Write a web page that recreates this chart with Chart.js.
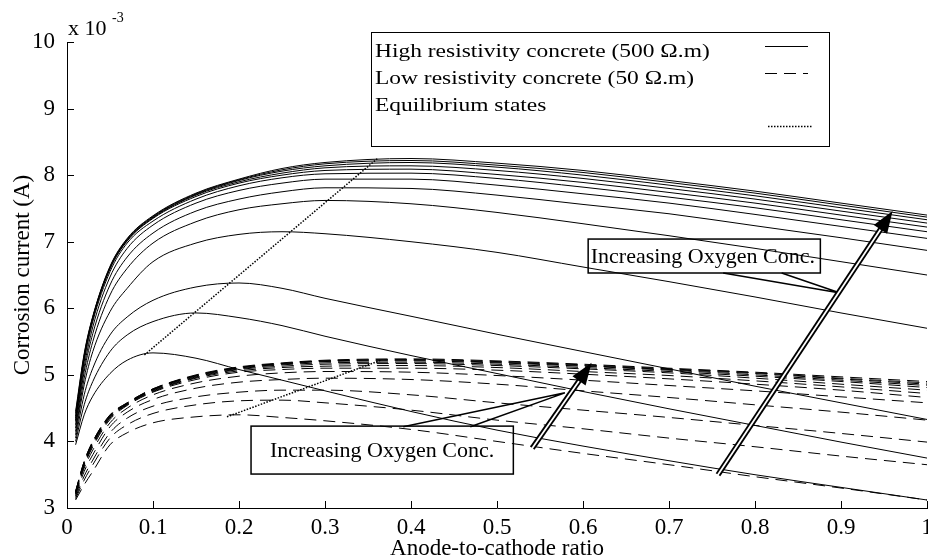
<!DOCTYPE html>
<html>
<head>
<meta charset="utf-8">
<script src="https://cdn.jsdelivr.net/npm/chart.js@4.4.1/dist/chart.umd.min.js"></script>
<style>
  html, body { margin: 0; padding: 0; background: #fff; }
  canvas { display: block; }
</style>
</head>
<body>
<canvas id="corrosionChart" width="928" height="559"></canvas>
<script>
// anode-to-cathode ratio sample points (shared by every curve)
const ratio = [0.01, 0.02, 0.03, 0.05, 0.07, 0.1, 0.15, 0.2, 0.25, 0.3, 0.4, 0.5, 0.6, 0.7, 0.8, 0.9, 1.0];

// corrosion current (x 10^-3 A), high resistivity concrete (500 ohm.m), low -> high oxygen
const highRes = [
  [3.95, 4.40, 4.68, 5.02, 5.22, 5.33, 5.25, 5.08, 4.92, 4.76, 4.45, 4.17, 3.93, 3.71, 3.50, 3.31, 3.12],
  [4.00, 4.55, 4.90, 5.35, 5.60, 5.80, 5.93, 5.86, 5.74, 5.58, 5.29, 5.02, 4.75, 4.49, 4.24, 3.99, 3.75],
  [4.05, 4.70, 5.10, 5.60, 5.87, 6.12, 6.32, 6.38, 6.30, 6.15, 5.88, 5.61, 5.35, 5.09, 4.83, 4.58, 4.33],
  [4.10, 4.85, 5.35, 5.95, 6.30, 6.70, 6.98, 7.11, 7.15, 7.12, 7.00, 6.84, 6.62, 6.40, 6.17, 5.93, 5.70],
  [4.15, 4.95, 5.50, 6.20, 6.60, 6.98, 7.30, 7.48, 7.57, 7.62, 7.57, 7.44, 7.27, 7.09, 6.90, 6.70, 6.50],
  [4.20, 5.05, 5.62, 6.35, 6.77, 7.13, 7.46, 7.64, 7.75, 7.81, 7.80, 7.70, 7.56, 7.42, 7.24, 7.06, 6.87],
  [4.25, 5.12, 5.72, 6.47, 6.90, 7.25, 7.58, 7.77, 7.88, 7.94, 7.94, 7.85, 7.72, 7.58, 7.41, 7.23, 7.05],
  [4.30, 5.20, 5.80, 6.55, 6.98, 7.31, 7.64, 7.84, 7.96, 8.02, 8.03, 7.95, 7.82, 7.67, 7.51, 7.33, 7.15],
  [4.32, 5.24, 5.84, 6.59, 7.01, 7.35, 7.68, 7.88, 8.00, 8.07, 8.09, 8.01, 7.89, 7.74, 7.58, 7.40, 7.22],
  [4.35, 5.26, 5.85, 6.60, 7.02, 7.36, 7.70, 7.90, 8.03, 8.11, 8.14, 8.07, 7.95, 7.80, 7.64, 7.46, 7.28],
  [4.38, 5.28, 5.86, 6.61, 7.03, 7.37, 7.71, 7.92, 8.06, 8.14, 8.19, 8.12, 8.00, 7.85, 7.69, 7.51, 7.33],
  [4.42, 5.30, 5.87, 6.62, 7.04, 7.38, 7.72, 7.93, 8.08, 8.17, 8.22, 8.15, 8.04, 7.89, 7.73, 7.55, 7.37],
  [4.45, 5.32, 5.88, 6.63, 7.05, 7.39, 7.73, 7.94, 8.10, 8.19, 8.25, 8.18, 8.07, 7.92, 7.76, 7.58, 7.40]
];

// low resistivity concrete (50 ohm.m)
const lowRes = [
  [3.12, 3.35, 3.55, 3.95, 4.13, 4.28, 4.37, 4.40, 4.36, 4.31, 4.18, 4.00, 3.82, 3.65, 3.47, 3.30, 3.12],
  [3.14, 3.42, 3.65, 4.05, 4.25, 4.42, 4.55, 4.61, 4.62, 4.58, 4.47, 4.32, 4.19, 4.05, 3.92, 3.78, 3.65],
  [3.16, 3.48, 3.72, 4.13, 4.35, 4.53, 4.67, 4.74, 4.77, 4.77, 4.70, 4.58, 4.47, 4.36, 4.24, 4.12, 3.99],
  [3.18, 3.55, 3.80, 4.22, 4.44, 4.63, 4.80, 4.89, 4.93, 4.95, 4.93, 4.86, 4.76, 4.66, 4.55, 4.44, 4.32],
  [3.20, 3.60, 3.87, 4.28, 4.50, 4.70, 4.88, 4.98, 5.03, 5.05, 5.04, 4.99, 4.92, 4.84, 4.76, 4.67, 4.58],
  [3.21, 3.63, 3.92, 4.33, 4.54, 4.74, 4.93, 5.04, 5.08, 5.10, 5.10, 5.07, 5.01, 4.94, 4.86, 4.77, 4.66],
  [3.22, 3.65, 3.94, 4.35, 4.55, 4.75, 4.95, 5.06, 5.11, 5.13, 5.14, 5.11, 5.05, 4.99, 4.91, 4.82, 4.72],
  [3.23, 3.66, 3.96, 4.36, 4.56, 4.76, 4.96, 5.08, 5.13, 5.16, 5.17, 5.14, 5.09, 5.03, 4.95, 4.86, 4.77],
  [3.23, 3.67, 3.97, 4.37, 4.56, 4.77, 4.97, 5.09, 5.15, 5.18, 5.19, 5.16, 5.11, 5.05, 4.98, 4.90, 4.81],
  [3.24, 3.68, 3.98, 4.38, 4.57, 4.78, 4.98, 5.10, 5.16, 5.20, 5.21, 5.18, 5.13, 5.07, 5.00, 4.92, 4.84],
  [3.24, 3.69, 3.99, 4.39, 4.57, 4.78, 4.99, 5.11, 5.17, 5.21, 5.22, 5.19, 5.14, 5.08, 5.02, 4.94, 4.86],
  [3.25, 3.70, 4.00, 4.39, 4.58, 4.79, 4.99, 5.11, 5.17, 5.21, 5.23, 5.20, 5.15, 5.09, 5.03, 4.95, 4.88],
  [3.25, 3.70, 4.00, 4.40, 4.58, 4.79, 5.00, 5.12, 5.18, 5.22, 5.24, 5.21, 5.16, 5.10, 5.04, 4.97, 4.90]
];

// equilibrium states (line through the peaks)
const eqHighRatio = [0.09, 0.362];
const eqHighCurrent = [5.30, 8.26];
const eqLowRatio = [0.186, 0.365];
const eqLowCurrent = [4.37, 5.22];

const xTickLabels = ["0", "0.1", "0.2", "0.3", "0.4", "0.5", "0.6", "0.7", "0.8", "0.9", "1"];
const yTickLabels = ["3", "4", "5", "6", "7", "8", "9", "10"];
const legendLabels = [
  "High resistivity concrete (500 \u03A9.m)",
  "Low resistivity concrete (50 \u03A9.m)",
  "Equilibrium states"
];
const calloutText = "Increasing Oxygen Conc.";

const SERIF = "'Liberation Serif', 'Times New Roman', serif";

function toPoints(xs, ys) {
  return ys.map((v, i) => ({ x: xs[i], y: v }));
}

const datasets = [];
highRes.forEach((curve, i) => {
  datasets.push({
    label: "high " + i,
    data: toPoints(ratio, curve),
    borderColor: "#000",
    borderWidth: 1,
    pointRadius: 0,
    cubicInterpolationMode: "monotone",
  });
});
lowRes.forEach((curve, i) => {
  datasets.push({
    label: "low " + i,
    data: toPoints(ratio, curve),
    borderColor: "#000",
    borderWidth: 1,
    borderDash: [12, 7],
    pointRadius: 0,
    cubicInterpolationMode: "monotone",
  });
});
[[eqHighRatio, eqHighCurrent], [eqLowRatio, eqLowCurrent]].forEach(([xs, ys]) => {
  datasets.push({
    label: "equilibrium",
    data: toPoints(xs, ys),
    borderColor: "#000",
    borderWidth: 1.5,
    borderDash: [1.5, 1.5],
    pointRadius: 0,
  });
});

// double-shafted arrow with a filled head, like the MATLAB annotation
function doubleArrow(ctx, x1, y1, x2, y2) {
  const ang = Math.atan2(y2 - y1, x2 - x1);
  const headLen = 22, headHalf = 8;
  const bx = x2 - headLen * Math.cos(ang), by = y2 - headLen * Math.sin(ang);
  ctx.lineCap = "butt";
  ctx.strokeStyle = "#000";
  ctx.lineWidth = 5.5;
  ctx.beginPath(); ctx.moveTo(x1, y1); ctx.lineTo(bx + 2 * Math.cos(ang), by + 2 * Math.sin(ang)); ctx.stroke();
  ctx.strokeStyle = "#fff";
  ctx.lineWidth = 1.8;
  ctx.beginPath(); ctx.moveTo(x1 - Math.cos(ang), y1 - Math.sin(ang)); ctx.lineTo(bx, by); ctx.stroke();
  ctx.fillStyle = "#000";
  ctx.beginPath();
  ctx.moveTo(x2, y2);
  ctx.lineTo(bx + headHalf * Math.sin(ang), by - headHalf * Math.cos(ang));
  ctx.lineTo(bx - headHalf * Math.sin(ang), by + headHalf * Math.cos(ang));
  ctx.closePath();
  ctx.fill();
}

const decor = {
  id: "decor",
  afterDraw(chart) {
    const { ctx, chartArea: area, scales: { x, y } } = chart;
    const X = (v) => x.getPixelForValue(v);
    const Y = (v) => y.getPixelForValue(v);
    ctx.save();

    // ticks pointing inwards
    ctx.strokeStyle = "#000";
    ctx.lineWidth = 1;
    ctx.beginPath();
    x.ticks.forEach((t) => {
      const px = Math.round(X(t.value)) + 0.5;
      ctx.moveTo(px, area.bottom);
      ctx.lineTo(px, area.bottom - 7);
    });
    y.ticks.forEach((t) => {
      const py = Math.round(Y(t.value)) + 0.5;
      ctx.moveTo(area.left, py);
      ctx.lineTo(area.left + 7, py);
    });
    ctx.stroke();

    // exponent label
    ctx.fillStyle = "#000";
    ctx.textBaseline = "alphabetic";
    ctx.textAlign = "left";
    ctx.font = "22px " + SERIF;
    ctx.fillText("x 10", area.left + 1, 35);
    ctx.font = "14px " + SERIF;
    ctx.fillText("-3", area.left + 45, 22);

    // legend box
    ctx.lineWidth = 1;
    ctx.strokeRect(371.5, 32.5, 458, 114);
    ctx.font = "23px " + SERIF;
    [57, 84, 111].forEach((base, i) => {
      ctx.save();
      ctx.translate(375, base);
      ctx.scale(1.02, 0.8);
      ctx.fillText(legendLabels[i], 0, 0);
      ctx.restore();
    });
    ctx.lineWidth = 1;
    ctx.beginPath(); ctx.moveTo(765, 46.5); ctx.lineTo(808, 46.5); ctx.stroke();
    ctx.setLineDash([12, 7]);
    ctx.beginPath(); ctx.moveTo(765, 73.5); ctx.lineTo(808, 73.5); ctx.stroke();
    ctx.setLineDash([1.5, 1.5]);
    ctx.lineWidth = 1.5;
    ctx.beginPath(); ctx.moveTo(768, 126.5); ctx.lineTo(812, 126.5); ctx.stroke();
    ctx.setLineDash([]);

    // upper callout (high resistivity)
    ctx.lineWidth = 1.5;
    ctx.strokeStyle = "#000";
    ctx.strokeRect(X(0.606), Y(7.04), X(0.876) - X(0.606), Y(6.53) - Y(7.04));
    ctx.font = "22px " + SERIF;
    ctx.textBaseline = "middle";
    ctx.fillText(calloutText, X(0.609), (Y(7.04) + Y(6.53)) / 2 + 1);
    ctx.beginPath();
    ctx.moveTo(X(0.763), Y(6.53)); ctx.lineTo(X(0.899), Y(6.23));
    ctx.moveTo(X(0.831), Y(6.53)); ctx.lineTo(X(0.899), Y(6.23));
    ctx.stroke();
    doubleArrow(ctx, X(0.757), Y(3.50), X(0.960), Y(7.46));

    // lower callout (low resistivity)
    ctx.lineWidth = 1.5;
    ctx.strokeStyle = "#000";
    ctx.strokeRect(X(0.214), Y(4.23), X(0.519) - X(0.214), Y(3.51) - Y(4.23));
    ctx.fillText(calloutText, X(0.236), (Y(4.23) + Y(3.51)) / 2 + 1);
    ctx.beginPath();
    ctx.moveTo(X(0.391), Y(4.22)); ctx.lineTo(X(0.579), Y(4.73));
    ctx.moveTo(X(0.469), Y(4.22)); ctx.lineTo(X(0.579), Y(4.73));
    ctx.stroke();
    doubleArrow(ctx, X(0.541), Y(3.90), X(0.610), Y(5.18));

    ctx.restore();
  },
};

const ctx = document.getElementById("corrosionChart").getContext("2d");
new Chart(ctx, {
  type: "line",
  data: { datasets: datasets },
  options: {
    responsive: false,
    animation: false,
    devicePixelRatio: 1,
    layout: { padding: { top: 42, right: 1, left: 0, bottom: 0 } },
    plugins: {
      legend: { display: false },
      tooltip: { enabled: false },
    },
    scales: {
      x: {
        type: "linear",
        min: 0,
        max: 1,
        grid: { display: false },
        border: { display: true, color: "#000", width: 1 },
        ticks: {
          stepSize: 0.1,
          padding: 0,
          maxRotation: 0,
          autoSkip: false,
          color: "#000",
          font: { family: SERIF, size: 23, lineHeight: 1 },
          callback: (v, i) => xTickLabels[i],
        },
        title: {
          display: true,
          text: "Anode-to-cathode ratio",
          color: "#000",
          font: { family: SERIF, size: 23, lineHeight: 0.85 },
          padding: { top: 0, bottom: 0 },
        },
        afterFit: (scale) => {
          scale.height = 51;
          scale.paddingLeft = 0;
          scale.paddingRight = 0;
        },
      },
      y: {
        min: 3,
        max: 10,
        grid: { display: false },
        border: { display: true, color: "#000", width: 1 },
        ticks: {
          stepSize: 1,
          padding: 4,
          color: "#000",
          font: { family: SERIF, size: 23 },
          callback: (v, i) => yTickLabels[i],
        },
        title: {
          display: true,
          text: "Corrosion current (A)",
          color: "#000",
          font: { family: SERIF, size: 23, lineHeight: 1 },
          padding: { top: 11, bottom: 0 },
        },
        afterFit: (scale) => {
          scale.width = 67;
          scale.paddingTop = 0;
          scale.paddingBottom = 0;
        },
      },
    },
  },
  plugins: [decor],
});
</script>
</body>
</html>
